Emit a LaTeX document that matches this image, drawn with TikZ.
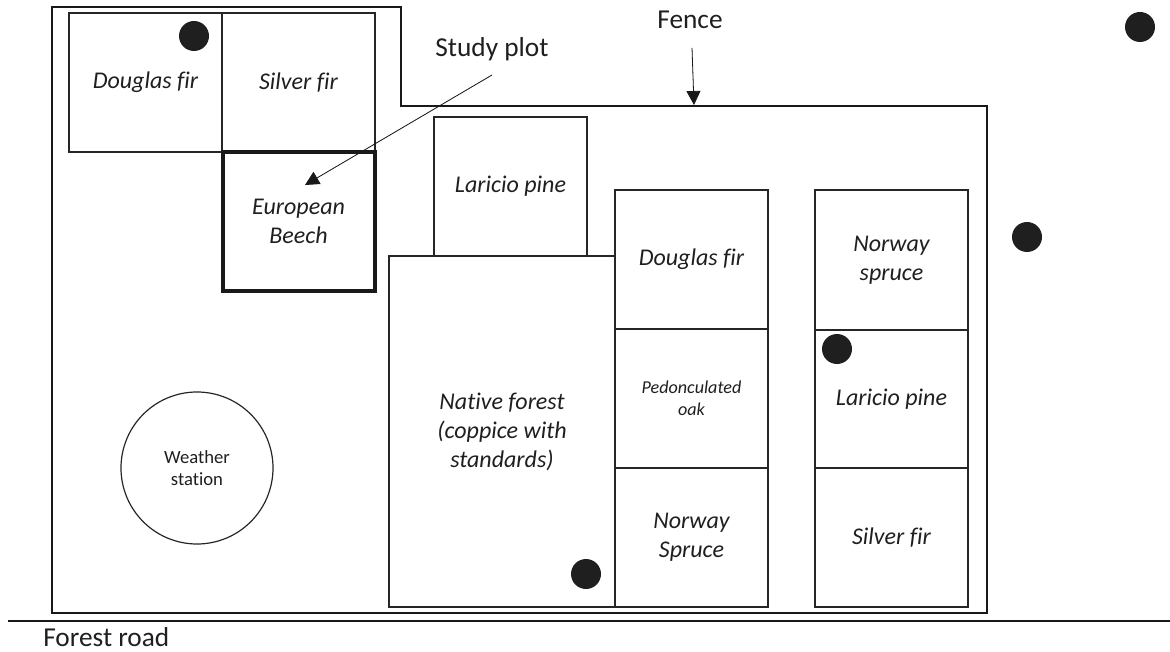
\documentclass[tikz,border=0pt]{standalone}
\usepackage{fontspec}
\setmainfont{Carlito}[Ligatures=NoCommon]
\usetikzlibrary{arrows.meta}
\begin{document}
\begin{tikzpicture}[x=0.75pt,y=-0.75pt,
  sz/.style 2 args={minimum width=#1*0.75pt, minimum height=#2*0.75pt},
  plotbox/.style={draw=black!85, line width=1pt, inner sep=0pt, outer sep=0pt, align=center, font=\fontsize{18}{21.75}\selectfont\itshape, text=black!88},
  smallplot/.style={plotbox, font=\fontsize{13.6}{16.5}\selectfont\itshape},
  studybox/.style={plotbox, draw=black!90, line width=3pt},
  tree/.style={circle, fill=black!88, inner sep=0pt, minimum size=22.5pt},
  lbl/.style={font=\fontsize{20.5}{24}\selectfont, inner sep=0pt, text=black!88},
  station/.style={circle, draw=black!85, line width=0.9pt, minimum size=114pt, inner sep=0pt, align=center, font=\fontsize{14}{16.5}\selectfont, text=black!88},
  fenceline/.style={draw=black!90, line width=1.6pt},
  arr/.style={-{Triangle[length=10.5pt,width=10.5pt]}, line width=0.6pt, draw=black!90, fill=black!90}
]
\useasboundingbox (0,0) rectangle (1170,652);
% fence
\draw[fenceline] (52,7) -- (401,7) -- (401,106) -- (987,106) -- (987,613) -- (52,613) -- cycle;
% road
\draw[fenceline] (8,621) -- (1170,621);
\node[lbl, anchor=base west] (road) at (43,646) {Forest road};

% plots top-left
\node[plotbox, sz={153}{139}] (df1) at (145.5,82.5) {Douglas fir};
\node[plotbox, sz={153}{139}] (sf1) at (298.5,82.5) {Silver fir};
\node[studybox, sz={152}{138}] (beech) at (298.5,221.5) {European\\Beech};

% middle plots
\node[plotbox, sz={153}{139}] (lp1) at (510.5,186.5) {Laricio pine};
\node[plotbox, sz={226}{351}] (native) at (502,431.5) {Native forest\\(coppice with\\standards)};
\node[plotbox, sz={153}{139}] (df2) at (691.5,259.5) {Douglas fir};
\node[smallplot, sz={153}{139}] (oak) at (691.5,398.5) {Pedonculated\\oak};
\node[plotbox, sz={153}{139}] (ns1) at (691.5,537.5) {Norway\\Spruce};

% right column
\node[plotbox, sz={153}{140}] (ns2) at (891.5,260) {Norway\\spruce};
\node[plotbox, sz={153}{138}] (lp2) at (891.5,399) {Laricio pine};
\node[plotbox, sz={153}{139}] (sf2) at (891.5,537.5) {Silver fir};

% weather station
\node[station] (ws) at (197,468) {Weather\\station};

% trees
\node[tree] (t1) at (194,36) {};
\node[tree] (t2) at (1140,27) {};
\node[tree] (t3) at (1027,237) {};
\node[tree] (t4) at (837,349) {};
\node[tree] (t5) at (586,574) {};

% labels and arrows
\node[lbl, anchor=base] (sp) at (492,57) {Study plot};
\node[lbl, anchor=base] (fence) at (690,29) {Fence};
\coordinate (spA) at (492,75);
\coordinate (spB) at (305,185);
\coordinate (feA) at (692,48);
\coordinate (feB) at (694,105);
\draw[arr] (spA) -- (spB);
\draw[arr] (feA) -- (feB);
\end{tikzpicture}
\end{document}
